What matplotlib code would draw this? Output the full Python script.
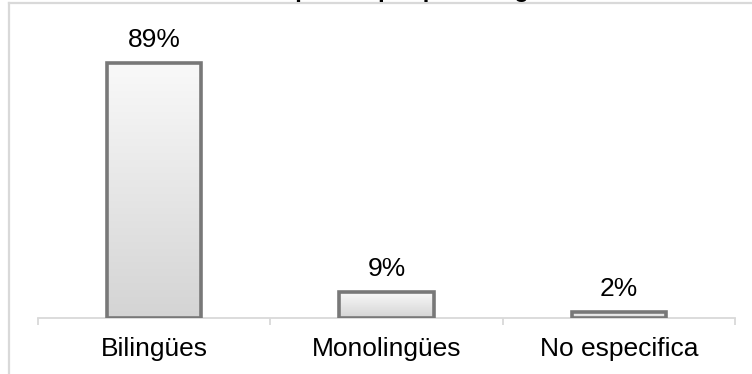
import numpy as np
import matplotlib.pyplot as plt
from matplotlib.lines import Line2D

categorias = ['Bilingües', 'Monolingües', 'No especifica']
porcentajes = [89, 9, 2]
etiquetas = ['89%', '9%', '2%']

plt.rcParams['font.family'] = ['Liberation Sans', 'DejaVu Sans']

fig = plt.figure(figsize=(7.52, 3.74), dpi=100)
ax = fig.add_axes([0.0505, 0.1497, 0.927, 0.766])

x = np.arange(len(categorias))
barras = ax.bar(x, porcentajes, width=0.405, facecolor='none',
                edgecolor='#787878', linewidth=2.6, zorder=3)

# degradado claro arriba, gris abajo, recortado a cada barra
grad = np.linspace(0, 1, 256).reshape(-1, 1)
cmap = plt.matplotlib.colors.LinearSegmentedColormap.from_list('g', ['#d4d4d4', '#f9f9f9'])
for b in barras:
    x0, y0 = b.get_x(), b.get_y()
    im = ax.imshow(grad, cmap=cmap, origin='lower', aspect='auto',
                   extent=[x0, x0 + b.get_width(), y0, y0 + b.get_height()], zorder=2)
    im.set_clip_path(b)

for xi, v, t in zip(x, porcentajes, etiquetas):
    ax.annotate(t, (xi, v), xytext=(0, 8), textcoords='offset points',
                ha='center', va='bottom', fontsize=19, color='#000000')

ax.set_xlim(-0.5, 2.5)
ax.set_ylim(0, 100)
ax.set_xticks(x)
ax.set_xticklabels(categorias, fontsize=19)
ax.tick_params(axis='x', which='major', length=0, pad=14)
ax.set_xticks([-0.5, 0.5, 1.5, 2.5], minor=True)
ax.tick_params(axis='x', which='minor', length=5, width=1.3, color='#d9d9d9')
ax.set_yticks([])
for s in ['top', 'right', 'left']:
    ax.spines[s].set_visible(False)
ax.spines['bottom'].set_color('#d9d9d9')
ax.spines['bottom'].set_linewidth(1.3)

# titulo del grafico (queda casi fuera del lienzo) y marco del area
fig.text(0.55, 1.009, 'Participantes por perfil lingüístico', ha='center',
         va='baseline', fontsize=17, fontweight='bold')
fig.add_artist(Line2D([8.5 / 752, 751 / 752], [1 - 2.5 / 374, 1 - 2.5 / 374],
                      color='#d9d9d9', linewidth=1.6))
fig.add_artist(Line2D([8.5 / 752, 8.5 / 752], [0, 1 - 2.5 / 374],
                      color='#d9d9d9', linewidth=1.6))

fig.savefig('out.png', dpi=100)
